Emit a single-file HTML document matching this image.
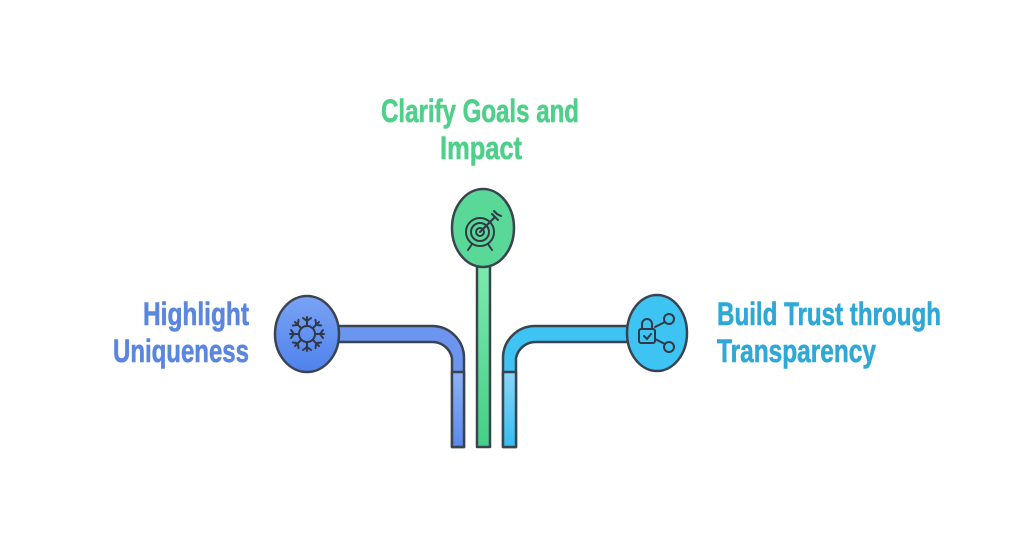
<!DOCTYPE html>
<html><head><meta charset="utf-8"><style>html,body{margin:0;padding:0;background:#fff;}svg{display:block}</style></head>
<body>
<svg width="1024" height="536" viewBox="0 0 1024 536" xmlns="http://www.w3.org/2000/svg">
<defs>
<linearGradient id="gb" x1="0" y1="0" x2="0" y2="1"><stop offset="0" stop-color="#8fb2f7"/><stop offset="1" stop-color="#5a88ee"/></linearGradient>
<linearGradient id="gc" x1="0" y1="0" x2="0" y2="1"><stop offset="0" stop-color="#8ad6f7"/><stop offset="1" stop-color="#34bdf0"/></linearGradient>
<linearGradient id="gg" x1="0" y1="0" x2="0" y2="1"><stop offset="0" stop-color="#7deaaf"/><stop offset="1" stop-color="#45cf85"/></linearGradient>
<linearGradient id="cb" x1="0" y1="0" x2="0" y2="1"><stop offset="0" stop-color="#7aa3f5"/><stop offset="1" stop-color="#4f82ec"/></linearGradient>
</defs>
<g font-family="Liberation Sans, sans-serif" font-weight="bold" font-size="32" stroke-width="0.6">
<text x="381" y="122" textLength="198" lengthAdjust="spacingAndGlyphs" fill="#4fd08a" stroke="#4fd08a">Clarify Goals and</text>
<text x="440" y="159" textLength="82" lengthAdjust="spacingAndGlyphs" fill="#4fd08a" stroke="#4fd08a">Impact</text>
<text x="143" y="325" textLength="106" lengthAdjust="spacingAndGlyphs" fill="#5b86de" stroke="#5b86de">Highlight</text>
<text x="113" y="362" textLength="136" lengthAdjust="spacingAndGlyphs" fill="#5b86de" stroke="#5b86de">Uniqueness</text>
<text x="717" y="325" textLength="224" lengthAdjust="spacingAndGlyphs" fill="#2fa8d6" stroke="#2fa8d6">Build Trust through</text>
<text x="717" y="362" textLength="159" lengthAdjust="spacingAndGlyphs" fill="#2fa8d6" stroke="#2fa8d6">Transparency</text>
</g>
<g stroke="#3a4350" stroke-width="2.5" stroke-linejoin="round">
<path d="M336 326 H432 A32 32 0 0 1 464 358 V447 H452 V358 A20 20 0 0 0 432 342 H336 Z" fill="#6b95ef"/>
<rect x="452" y="372" width="12" height="75" fill="url(#gb)"/>
<path d="M632 326 H535 A32 32 0 0 0 503 358 V447 H516 V358 A20 20 0 0 1 536 342 H632 Z" fill="#3fc3f2"/>
<rect x="503" y="372" width="13" height="75" fill="url(#gc)"/>
<rect x="477" y="262" width="13" height="185" fill="url(#gg)"/>
<ellipse cx="307" cy="334" rx="32" ry="38" fill="url(#cb)"/>
<ellipse cx="483" cy="228" rx="31" ry="39" fill="#5ad898"/>
<ellipse cx="657" cy="333" rx="30" ry="38" fill="#3ec4f3"/>
</g>
<g stroke="#2f3a46" stroke-width="2" fill="none" stroke-linecap="round">
<g transform="translate(307,334)">
<circle r="8"/>
<g id="arm"><line x1="0" y1="-8" x2="0" y2="-17"/><polyline points="-4,-16 0,-13 4,-16"/></g>
<use href="#arm" transform="rotate(45)"/><use href="#arm" transform="rotate(90)"/><use href="#arm" transform="rotate(135)"/>
<use href="#arm" transform="rotate(180)"/><use href="#arm" transform="rotate(225)"/><use href="#arm" transform="rotate(270)"/><use href="#arm" transform="rotate(315)"/>
</g>
<g transform="translate(480,232)">
<circle r="14"/><circle r="9"/><circle r="4"/>
<line x1="0" y1="0" x2="15" y2="-15"/>
<path d="M12 -18 L15 -15 L18 -12 M14 -21 L17 -18 L21 -16"/>
<line x1="-8" y1="12" x2="-12" y2="18"/><line x1="8" y1="12" x2="12" y2="18"/>
</g>
<g transform="translate(650,333)">
<rect x="-11" y="-4" width="16" height="14" rx="2"/>
<path d="M-8 -4 V-9 A5 5 0 0 1 2 -9 V-4"/>
<polyline points="-6,3 -3,6 1,1"/>
<circle cx="19" cy="-14" r="5"/><circle cx="19" cy="14" r="5"/>
<line x1="5" y1="-6" x2="15" y2="-11"/><line x1="5" y1="6" x2="15" y2="11"/>
</g>
</g>
</svg>
</body></html>
